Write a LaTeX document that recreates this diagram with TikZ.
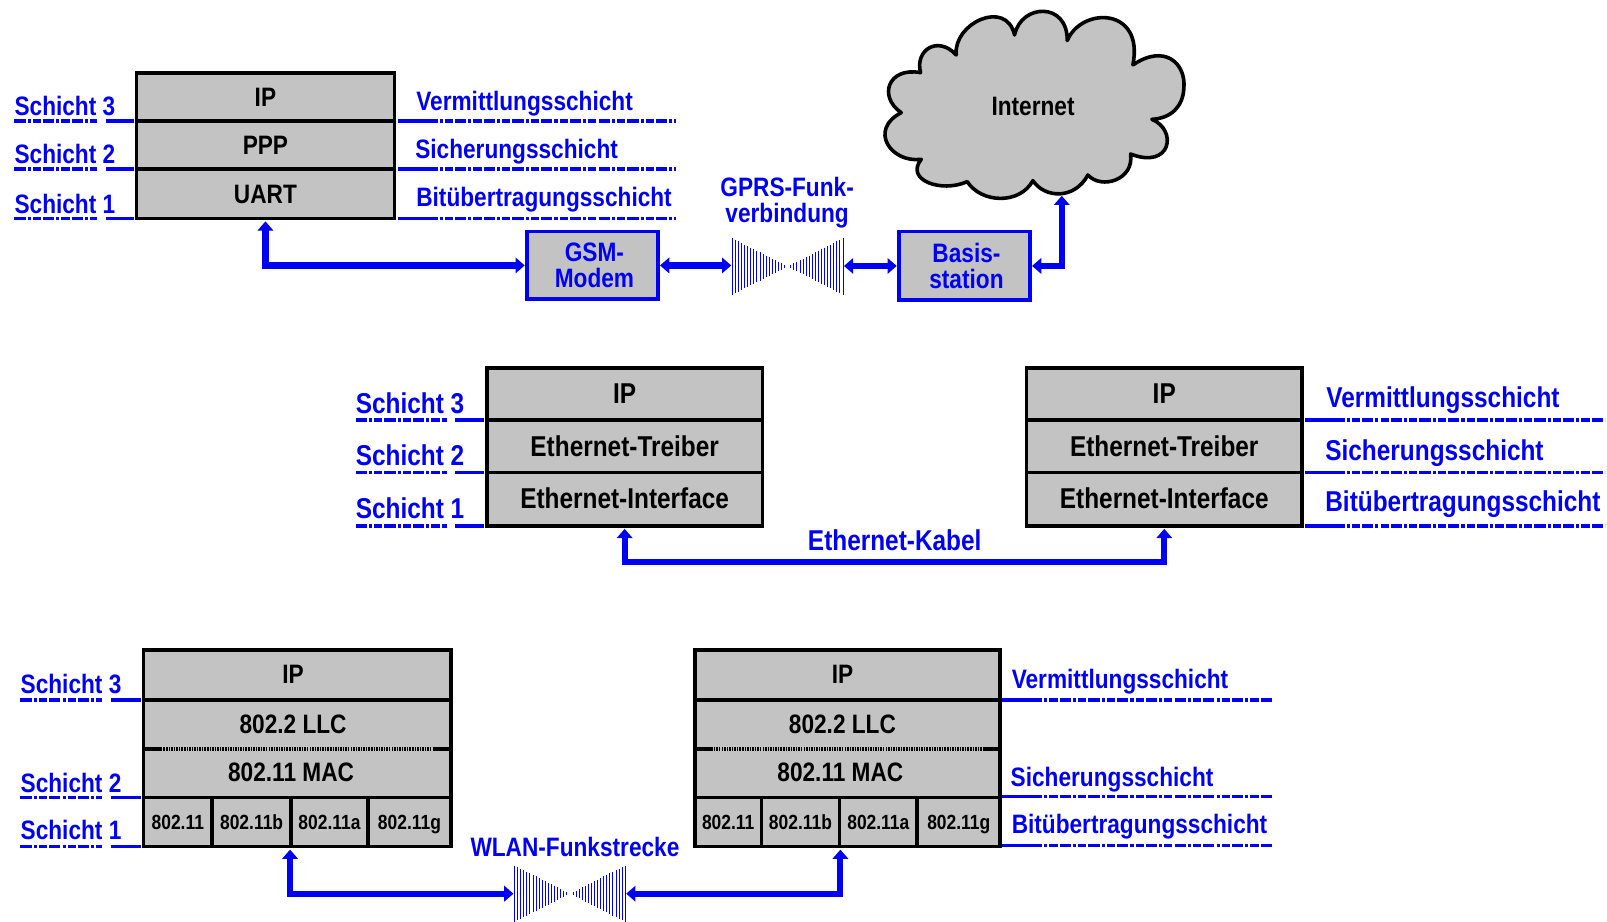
\documentclass[tikz,border=0pt]{standalone}
\usepackage{fontspec}
\setmainfont[FakeStretch=0.85,BoldFont={Liberation Sans Bold}]{Liberation Sans}
\usetikzlibrary{arrows.meta}
\definecolor{netblue}{RGB}{0,0,245}
\definecolor{cellgray}{RGB}{195,195,195}
\newcommand{\szA}{\fontsize{26}{25}\selectfont\bfseries}
\newcommand{\szB}{\fontsize{28}{28}\selectfont\bfseries}
\newcommand{\szC}{\fontsize{26}{27}\selectfont\bfseries}
\newcommand{\szS}{\fontsize{20}{20}\selectfont\bfseries}
\tikzset{
  cell/.style={draw=black,line width=3.5pt,fill=cellgray,inner sep=0pt,outer sep=3pt,text=black,text height=19pt,text depth=0pt,align=center},
  small/.style={cell,font=\szS,text height=14.5pt,minimum height=48pt},
  blueBox/.style={draw=netblue,line width=3.5pt,fill=cellgray,inner sep=0pt,outer sep=2pt,text=netblue,align=center,font=\szA},
  lab/.style={text=netblue,inner sep=0pt,anchor=base west},
  clab/.style={text=netblue,inner sep=0pt,align=center},
  layerline/.style={draw=netblue,line width=3.5pt,dash pattern=on 11pt off 2pt on 3pt off 2pt on 8pt off 2pt},
  solidline/.style={draw=netblue,line width=3.5pt},
  arr/.style={draw=netblue,line width=6pt,{Triangle[width=15pt,length=9pt]}-{Triangle[width=15pt,length=9pt]}},
  tie/.style={inner sep=0pt,outer sep=0pt,minimum width=110pt,minimum height=56pt},
  tiebar/.style={draw=netblue,line width=.8pt},
  inlay/.style={inner sep=0pt,text=black,font=\szC,text height=19pt,text depth=0pt},
}
% left rule: dashed below the text, solid next to the box
\newcommand{\leftrule}[5]{%
  \coordinate (#1a) at (#2,#4); \coordinate (#1b) at (#3,#4); \coordinate (#1c) at (#5,#4);
  \coordinate (#1d) at ({#5+8},#4);
  \draw[layerline] (#1a) -- (#1c); \draw[solidline] (#1d) -- (#1b);}
% right rule: solid start and end around the dashes
\newcommand{\rightrule}[4]{%
  \coordinate (#1a) at (#2,#4); \coordinate (#1b) at (#3,#4);
  \coordinate (#1c) at ({#2+28},#4);
  \draw[solidline] (#1a) -- (#1c); \draw[layerline] (#1c) -- (#1b);}
\newcommand{\tiemark}[3]{% name, cx, cy : half-width 55, half-height 28
  \node[tie] (#1) at (#2,#3) {};
  \foreach \d in {3,6,...,55} {
    \draw[tiebar] ({#2-\d},{#3-\d*28/55}) -- ({#2-\d},{#3+\d*28/55});
    \draw[tiebar] ({#2+\d},{#3-\d*28/55}) -- ({#2+\d},{#3+\d*28/55});
  }}
\begin{document}
\begin{tikzpicture}[x=1pt,y=-1pt]
\useasboundingbox (0,0) rectangle (1568,899);

% ---------- GPRS ----------
\begin{scope}[shift={(681,0)},scale=0.3252]
\draw[black,line width=3.5pt,fill=cellgray,line join=round]
 (775,165) .. controls (765,70) and (925,-5) .. (950,105)
 .. controls (970,10) and (1110,5) .. (1108,122)
 .. controls (1150,20) and (1340,20) .. (1305,195)
 .. controls (1400,130) and (1465,190) .. (1458,265)
 .. controls (1455,320) and (1420,355) .. (1362,358)
 .. controls (1440,390) and (1420,510) .. (1298,462)
 .. controls (1310,540) and (1210,570) .. (1170,525)
 .. controls (1130,600) and (1040,595) .. (1005,542)
 .. controls (965,615) and (850,610) .. (808,545)
 .. controls (730,580) and (620,540) .. (670,478)
 .. controls (580,490) and (510,390) .. (610,338)
 .. controls (540,290) and (570,200) .. (668,218)
 .. controls (650,150) and (720,105) .. (775,165) -- cycle;
\end{scope}
\node[inner sep=0pt,text=black,font=\szA] (cloudtext) at (1008,104) {Internet};
\coordinate (cloudfoot) at (1036,191);

\node[cell,font=\szA,minimum width=252pt,minimum height=47pt] (a3) at (259,94.5) {IP};
\node[cell,font=\szA,minimum width=252pt,minimum height=47pt] (a2) at (259,141.5) {PPP};
\node[cell,font=\szA,minimum width=252pt,minimum height=48pt] (a1) at (259,189) {UART};

\node[lab,font=\szA] (as3) at (14,113) {Schicht 3};
\node[lab,font=\szA] (as2) at (14,160) {Schicht 2};
\node[lab,font=\szA] (as1) at (14,208) {Schicht 1};
\leftrule{al3}{14}{131}{118}{95}
\leftrule{al2}{14}{131}{165}{95}
\leftrule{al1}{14}{131}{213}{95}
\node[lab,font=\szA] (ar3) at (406,108) {Vermittlungsschicht};
\node[lab,font=\szA] (ar2) at (405,155) {Sicherungsschicht};
\node[lab,font=\szA] (ar1) at (406,201) {Bitübertragungsschicht};
\rightrule{arl3}{388}{660}{118}
\rightrule{arl2}{388}{660}{165}
\rightrule{arl1}{388}{660}{213}

\node[blueBox,minimum width=128pt,minimum height=66pt] (gsm) at (578,259) {\hspace*{4pt}GSM-\\\hspace*{4pt}Modem};
\node[blueBox,minimum width=128pt,minimum height=67pt] (basis) at (941,259.5) {\hspace*{4pt}Basis-\\\hspace*{4pt}station};
\tiemark{tieA}{768.5}{260}
\node[clab,font=\szA] (gprs) at (768,198) {GPRS-Funk-\\verbindung};
\draw[arr] (a1.south) |- (gsm.west);
\draw[arr] (gsm.east) -- (gsm.east -| tieA.west);
\draw[arr] (basis.west -| tieA.east) -- (basis.west);
\draw[arr] (basis.east) -| (cloudfoot);

% ---------- Ethernet ----------
\foreach \n/\c in {b/609.5,c/1136} {
  \node[cell,font=\szB,minimum width=269pt,minimum height=51pt] (\n3) at (\c,384.5) {IP};
  \node[cell,font=\szB,minimum width=269pt,minimum height=51pt] (\n2) at (\c,435.5) {Ethernet-Treiber};
  \node[cell,font=\szB,minimum width=269pt,minimum height=52pt] (\n1) at (\c,487) {Ethernet-Interface};
}
\node[lab,font=\szB] (bs3) at (347,403) {Schicht 3};
\node[lab,font=\szB] (bs2) at (347,454) {Schicht 2};
\node[lab,font=\szB] (bs1) at (347,506) {Schicht 1};
\leftrule{bl3}{347}{472}{410}{436}
\leftrule{bl2}{347}{472}{461}{436}
\leftrule{bl1}{347}{472}{513}{436}
\node[lab,font=\szB] (br3) at (1294,398) {Vermittlungsschicht};
\node[lab,font=\szB] (br2) at (1293,449) {Sicherungsschicht};
\node[lab,font=\szB] (br1) at (1293,499) {Bitübertragungsschicht};
\rightrule{brl3}{1273}{1566}{410}
\rightrule{brl2}{1273}{1566}{461}
\rightrule{brl1}{1273}{1566}{513}
\node[clab,font=\szB] (kabel) at (873,527) {Ethernet-Kabel};
\coordinate (kabelmid) at (873,548);
\draw[arr] (b1.south) |- (kabelmid) -| (c1.south);

% ---------- WLAN ----------
\foreach \n/\c/\w/\t in {d/290/300/0,e/827/298/537} {
  \node[cell,minimum width=\w pt,minimum height=49pt] (\n4) at (\c,658.5) {};
  \node[cell,minimum width=\w pt,minimum height=48pt] (\n3) at (\c,707) {};
  \node[cell,minimum width=\w pt,minimum height=47pt] (\n2) at (\c,754.5) {};
  \draw[cellgray,line width=3.5pt] ({157+\t},731) -- ({423+\t},731);
  \draw[black,line width=3.5pt,dash pattern=on 1.5pt off 1pt] ({157+\t},731) -- ({423+\t},731);
}
\node[small,minimum width=67pt] (d1a) at (173.5,802) {802.11};
\node[small,minimum width=77pt] (d1b) at (245.5,802) {802.11b};
\node[small,minimum width=75pt] (d1c) at (321.5,802) {802.11a};
\node[small,minimum width=81pt] (d1d) at (399.5,802) {802.11g};
\node[small,minimum width=65pt] (e1a) at (710.5,802) {802.11};
\node[small,minimum width=76pt] (e1b) at (781,802) {802.11b};
\node[small,minimum width=76pt] (e1c) at (857,802) {802.11a};
\node[small,minimum width=81pt] (e1d) at (935.5,802) {802.11g};
\node[inlay] (dip) at (286,657.5) {IP};
\node[inlay] (dllc) at (286,706.5) {802.2 LLC};
\node[inlay] (dmac) at (284,753.5) {802.11 MAC};
\node[inlay] (eip) at (822,657.5) {IP};
\node[inlay] (ellc) at (822,706.5) {802.2 LLC};
\node[inlay] (emac) at (820,753.5) {802.11 MAC};

\node[lab,font=\szA] (ds3) at (20,677) {Schicht 3};
\node[lab,font=\szA] (ds2) at (20,773) {Schicht 2};
\node[lab,font=\szA] (ds1) at (20,819) {Schicht 1};
\leftrule{dl3}{20}{138}{683}{100}
\leftrule{dl2}{20}{138}{778}{100}
\leftrule{dl1}{20}{138}{826}{100}
\node[lab,font=\szA] (er3) at (987,672) {Vermittlungsschicht};
\node[lab,font=\szA] (er2) at (986,767) {Sicherungsschicht};
\node[lab,font=\szA] (er1) at (987,813) {Bitübertragungsschicht};
\rightrule{erl3}{978}{1242}{683}
\rightrule{erl2}{978}{1242}{777}
\rightrule{erl1}{978}{1242}{825}

\tiemark{tieB}{556}{872}
\node[clab,font=\szA] (wlan) at (561,826.5) {WLAN-Funkstrecke};
\coordinate (wl) at (283,829);
\coordinate (wr) at (820,829);
\draw[arr] (wl) |- (tieB.west);
\draw[arr] (wr) |- (tieB.east);
\end{tikzpicture}
\end{document}
